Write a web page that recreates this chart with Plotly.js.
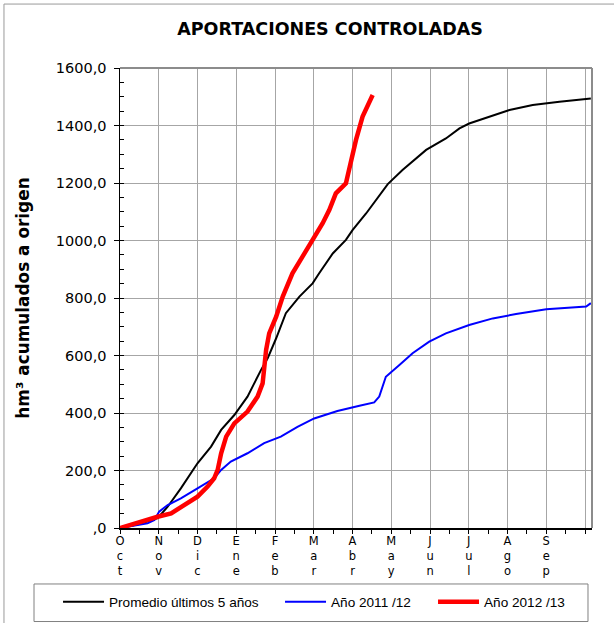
<!DOCTYPE html>
<html>
<head>
<meta charset="utf-8">
<script src="https://cdn.plot.ly/plotly-3.0.1.min.js"></script>
<style>
  html, body { margin: 0; padding: 0; background: #fff; }
  #chart { width: 614px; height: 623px; }
</style>
</head>
<body>
<div id="chart"></div>
<script>
// Month index (0 = start of October) and cumulative hm³
const monthLabels = ["O<br>c<br>t", "N<br>o<br>v", "D<br>i<br>c", "E<br>n<br>e", "F<br>e<br>b", "M<br>a<br>r",
                     "A<br>b<br>r", "M<br>a<br>y", "J<br>u<br>n", "J<br>u<br>l", "A<br>g<br>o", "S<br>e<br>p", ""];
const monthTicks = [0, 1, 2, 3, 4, 5, 6, 7, 8, 9, 10, 11, 12];
const yTicks = [0, 200, 400, 600, 800, 1000, 1200, 1400, 1600];
const yTickText = [",0", "200,0", "400,0", "600,0", "800,0", "1000,0", "1200,0", "1400,0", "1600,0"];

const xPromedio = [0, 0.5, 0.97, 1.23, 1.57, 2.0, 2.35, 2.61, 2.95, 3.29, 3.64, 3.81, 4.03, 4.28, 4.63, 4.97, 5.14,
                   5.49, 5.83, 6.0, 6.35, 6.61, 6.91, 7.29, 7.9, 8.41, 8.76, 9.01, 9.62, 10.05, 10.65, 11.34, 12.15];
const yPromedio = [0, 14, 34, 74, 138, 225, 283, 341, 393, 457, 550, 590, 660, 747, 805, 851, 886,
                   955, 1002, 1036, 1094, 1141, 1196, 1245, 1315, 1355, 1390, 1407, 1436, 1454, 1471, 1483, 1494];

const x2011 = [0, 0.4, 0.71, 0.89, 1.01, 1.23, 1.57, 2.0, 2.43, 2.61, 2.86, 3.29, 3.72, 4.15, 4.58, 5.01, 5.61,
               6.18, 6.56, 6.69, 6.86, 7.21, 7.55, 7.98, 8.41, 9.01, 9.62, 10.22, 11.0, 12.03, 12.15];
const y2011 = [0, 10, 16, 28, 57, 80, 103, 138, 173, 202, 231, 260, 295, 318, 352, 381, 407,
               425, 437, 457, 526, 567, 608, 648, 677, 706, 729, 744, 761, 770, 782];

const x2012 = [0, 0.37, 0.71, 0.97, 1.32, 1.57, 2.0, 2.26, 2.43, 2.52, 2.61, 2.74, 2.95, 3.29, 3.55, 3.68, 3.72,
               3.77, 3.85, 4.03, 4.2, 4.45, 4.71, 4.97, 5.23, 5.4, 5.57, 5.83, 5.92, 6.09, 6.26, 6.39, 6.52];
const y2012 = [0, 16, 28, 39, 51, 74, 109, 144, 173, 202, 260, 318, 364, 405, 457, 503, 573,
               619, 677, 735, 805, 886, 944, 1002, 1060, 1106, 1164, 1199, 1257, 1350, 1431, 1465, 1506];

const traces = [
  { x: xPromedio, y: yPromedio, type: 'scatter', mode: 'lines', name: 'Promedio últimos 5 años',
    line: { color: '#000000', width: 2 }, legendwidth: 166 },
  { x: x2011, y: y2011, type: 'scatter', mode: 'lines', name: 'Año 2011 /12',
    line: { color: '#0000ff', width: 2 }, legendwidth: 97 },
  { x: x2012, y: y2012, type: 'scatter', mode: 'lines', name: 'Año 2012 /13',
    line: { color: '#ff0000', width: 4.5 }, legendwidth: 85 }
];

const layout = {
  width: 614, height: 623,
  margin: { l: 120, r: 22, t: 68, b: 95, autoexpand: false },
  paper_bgcolor: '#ffffff', plot_bgcolor: '#ffffff',
  title: {
    text: '<b>APORTACIONES CONTROLADAS</b>',
    font: { family: 'DejaVu Sans', size: 17.5, color: '#000000' },
    x: 0.445, xref: 'paper', xanchor: 'center',
    y: 0.954, yref: 'container', yanchor: 'middle'
  },
  xaxis: {
    range: [0, 12.18], tickmode: 'array', tickvals: monthTicks, ticktext: monthLabels,
    showgrid: true, gridcolor: '#a6a6a6', gridwidth: 1, zeroline: false,
    showline: true, linecolor: '#000000', linewidth: 1.5,
    ticks: 'outside', ticklen: 4, tickcolor: '#000000', ticklabelstandoff: -2,
    tickfont: { family: 'DejaVu Sans', size: 11.5, color: '#000000' },
    minor: { tickmode: 'linear', tick0: 0, dtick: 0.5, ticks: 'outside', ticklen: 4, tickcolor: '#000000', showgrid: false },
    automargin: false,
    fixedrange: true
  },
  yaxis: {
    range: [0, 1600], tickmode: 'array', tickvals: yTicks, ticktext: yTickText,
    showgrid: true, gridcolor: '#a6a6a6', gridwidth: 1, zeroline: false,
    showline: true, linecolor: '#000000', linewidth: 1.5,
    ticks: 'outside', ticklen: 5, tickcolor: '#000000', ticklabelstandoff: 4,
    tickfont: { family: 'DejaVu Sans', size: 14.5, color: '#000000' },
    minor: { tickmode: 'linear', tick0: 0, dtick: 50, ticks: 'inside', ticklen: 4, tickcolor: '#000000', showgrid: false },
    title: { text: '<b>hm³ acumulados a origen</b>', font: { family: 'DejaVu Sans', size: 16.9, color: '#000000' }, standoff: 22 },
    automargin: false,
    fixedrange: true
  },
  showlegend: true,
  legend: {
    orientation: 'h', x: -0.1313, xanchor: 'left', y: -0.1609, yanchor: 'middle',
    font: { family: 'Liberation Sans, Arial', size: 13.6, color: '#000000' },
    bgcolor: 'rgba(0,0,0,0)', borderwidth: 0, itemwidth: 41
  },
  shapes: [
    { type: 'line', xref: 'paper', yref: 'paper', x0: 0, x1: 1, y0: 1, y1: 1, line: { color: '#8c8c8c', width: 2 } },
    { type: 'line', xref: 'paper', yref: 'paper', x0: 1, x1: 1, y0: 0, y1: 1, line: { color: '#8c8c8c', width: 2 } },
    { type: 'rect', xref: 'paper', yref: 'paper', x0: -0.1822, x1: 0.9915, y0: -0.1217, y1: -0.2033,
      line: { color: '#808080', width: 1 } },
    { type: 'line', xref: 'paper', yref: 'paper', x0: -0.2458, x1: -0.2458, y0: -0.25, y1: 1.139, line: { color: '#9a9a9a', width: 1 } },
    { type: 'line', xref: 'paper', yref: 'paper', x0: -0.2458, x1: 1.1, y0: 1.139, y1: 1.139, line: { color: '#9a9a9a', width: 1 } }
  ]
};

Plotly.newPlot('chart', traces, layout, { displayModeBar: false, staticPlot: true });
</script>
</body>
</html>
